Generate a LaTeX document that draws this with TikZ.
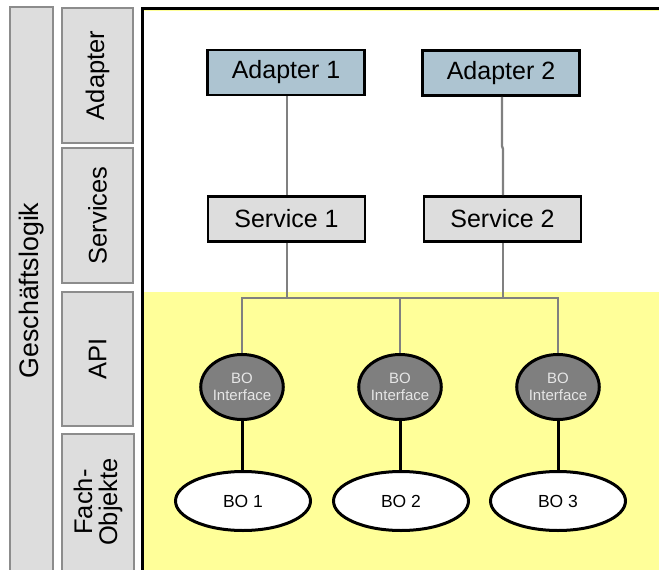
\documentclass[tikz,border=0pt]{standalone}
\usepackage{fontspec}
\setmainfont{Liberation Sans}
\usetikzlibrary{shapes.geometric}
\definecolor{sidegray}{HTML}{DDDDDD}
\definecolor{sideline}{HTML}{8C8C8C}
\definecolor{adapterblue}{HTML}{ADC4D1}
\definecolor{servicegray}{HTML}{DDDDDD}
\definecolor{apiyellow}{HTML}{FFFF99}
\definecolor{wiregray}{HTML}{808080}
\definecolor{ifacegray}{HTML}{7F7F7F}
\definecolor{ifacetext}{HTML}{E6E6E6}
\tikzset{
  sidebox/.style={draw=sideline, fill=sidegray, line width=1.3pt},
  sidelabel/.style={rotate=90, align=center, inner sep=0pt,
    font=\fontsize{25.5}{25}\selectfont},
  adapterbox/.style={draw=black, fill=adapterblue, line width=2.6pt,
    minimum width=157pt, minimum height=45pt, inner sep=0pt,
    font=\fontsize{25}{28}\selectfont},
  servicebox/.style={draw=black, fill=servicegray, line width=2.6pt,
    minimum width=157pt, minimum height=45pt, inner sep=0pt,
    font=\fontsize{25}{28}\selectfont},
  iface/.style={ellipse, draw=black, fill=ifacegray, line width=3pt,
    minimum width=69pt, minimum height=65pt, inner sep=0pt, align=center,
    text=ifacetext, font=\fontsize{15}{16.5}\selectfont},
  bo/.style={ellipse, draw=black, fill=white, line width=3pt,
    minimum width=135pt, minimum height=59pt, inner sep=0pt,
    font=\fontsize{17.5}{20}\selectfont},
  wire/.style={draw=wiregray, line width=2.3pt},
  thinwire/.style={draw=wiregray, line width=1.3pt},
  link/.style={draw=black, line width=3pt},
}
\begin{document}
\begin{tikzpicture}[x=1pt, y=-1pt]
  \useasboundingbox (0,0) rectangle (659,570);
  \clip (0,0) rectangle (659,570);

  % layer column on the left
  \draw[sidebox] (10,7) rectangle (53,580);
  \node[sidelabel, font=\fontsize{26.8}{26}\selectfont] (gl) at (31.5,290.5) {Geschäftslogik};
  \draw[sidebox] (62,8) rectangle (133,143);
  \node[sidelabel] (ladapter) at (97.5,75.5) {Adapter};
  \draw[sidebox] (62,148) rectangle (133,283);
  \node[sidelabel] (lservices) at (97.5,215.5) {Services};
  \draw[sidebox] (62,292) rectangle (133,426);
  \node[sidelabel] (lapi) at (97.5,359) {API};
  \draw[sidebox] (62,434) rectangle (134,580);
  \node[sidelabel] (lfach) at (98,502) {Fach-\\Objekte};

  % main area: white upper part, yellow API/business object part
  \fill[white] (142,8) rectangle (662,292);
  \fill[apiyellow] (142,292) rectangle (662,575);
  \draw[apiyellow, line width=1pt] (142,10.5) -- (662,10.5);
  \draw[black, line width=3pt] (659,8) -- (142,8) -- (142,575);

  % adapters and services
  \node[adapterbox] (a1) at (286,72.5) {Adapter 1};
  \node[adapterbox] (a2) at (501,73) {Adapter 2};
  \node[servicebox] (s1) at (286.5,219) {Service 1};
  \node[servicebox] (s2) at (502.5,219) {Service 2};

  % business object interfaces and business objects
  \node[iface] (i1) at (242,387) {BO\\Interface};
  \node[iface] (i2) at (400,387) {BO\\Interface};
  \node[iface] (i3) at (558,387) {BO\\Interface};
  \node[bo] (b1) at (243,501) {BO 1};
  \node[bo] (b2) at (401,501) {BO 2};
  \node[bo] (b3) at (558,501) {BO 3};

  % bus connecting the services with the interfaces
  \coordinate (busl) at (242,298);
  \coordinate (busr) at (558,298);
  \coordinate (bus1) at (287,298);
  \coordinate (bus2) at (503,298);
  \coordinate (busm) at (400,298);
  \coordinate (kinka) at (502,146);
  \coordinate (kinkb) at (503,149);

  \draw[wire] (a1.south -| bus1) -- (s1.north -| bus1);
  \draw[wire] (a2.south -| kinka) -- (kinka) -- (kinkb) -- (s2.north -| kinkb);
  \draw[wire] (s1.south -| bus1) -- (bus1);
  \draw[wire] (s2.south -| bus2) -- (bus2);
  \draw[wire] (i1.north) -- (busl) -- (busr) -- (i3.north);
  \draw[thinwire] (busm) -- (i2.north);

  \draw[link] (i1.south) -- (b1.north -| i1.south);
  \draw[link] (i2.south) -- (b2.north -| i2.south);
  \draw[link] (i3.south) -- (b3.north -| i3.south);
\end{tikzpicture}
\end{document}
